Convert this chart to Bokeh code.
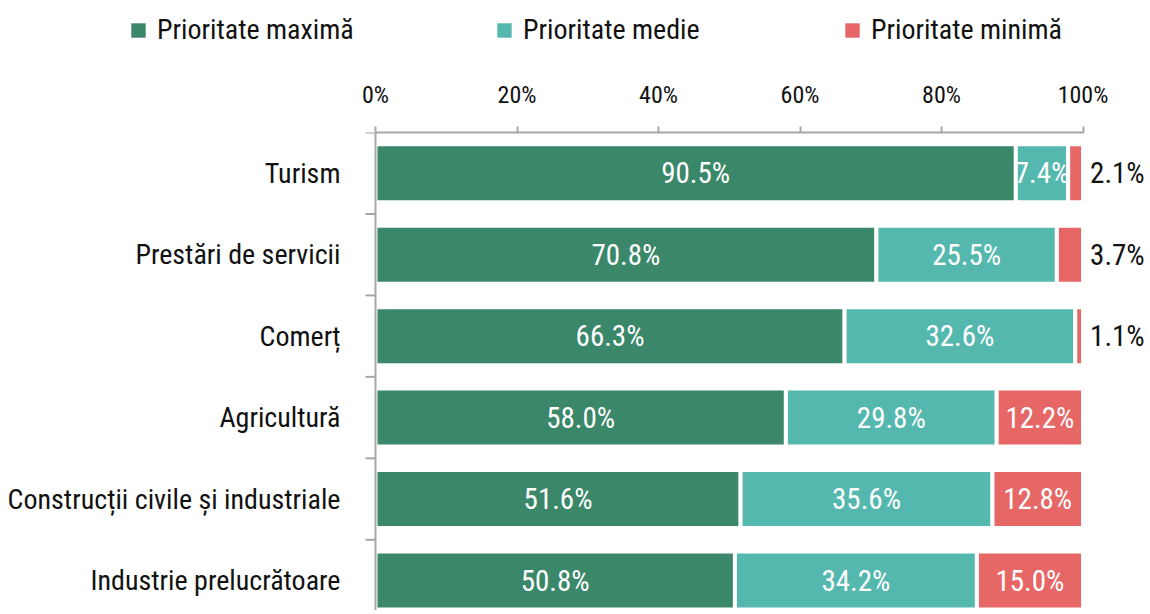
from bokeh.plotting import figure
from bokeh.models import (ColumnDataSource, FixedTicker, Range1d, Legend, LegendItem,
                          PrintfTickFormatter, LabelSet, Span)
from bokeh.layouts import column
from bokeh.core.properties import value
from bokeh.embed import file_html
from bokeh.resources import INLINE

FONT = "Roboto Condensed"

categories = ["Turism", "Prestări de servicii", "Comerț", "Agricultură",
              "Construcții civile și industriale", "Industrie prelucrătoare"]
series_names = ["Prioritate maximă", "Prioritate medie", "Prioritate minimă"]
maxima = [90.5, 70.8, 66.3, 58.0, 51.6, 50.8]
medie = [7.4, 25.5, 32.6, 29.8, 35.6, 34.2]
minima = [2.1, 3.7, 1.1, 12.2, 12.8, 15.0]
x_ticks = [0, 20, 40, 60, 80, 100]
colors = ["#3A876A", "#55B8AE", "#E76767"]
TXT = "#111111"
AXIS = "#A6A6A6"

n = len(categories)
ypos = [n - i - 0.5 for i in range(n)]  # first category on top
bounds_y = [float(k) for k in range(1, n + 1)]

# ---------------- legend strip ----------------
pl = figure(width=1146, height=60, output_backend="svg", toolbar_location=None,
            x_range=(0, 1), y_range=(0, 1), min_border=0)
pl.axis.visible = False
pl.grid.visible = False
pl.outline_line_color = None
leg_x = [129, 495, 843]
for name, col, lx in zip(series_names, colors, leg_x):
    r = pl.hbar(y=[-10], right=[1], height=0.5, color=col, line_color=None)
    lg = Legend(items=[LegendItem(label=name, renderers=[r])], location=(lx, 14),
                orientation="horizontal", padding=0, margin=0,
                glyph_width=18, glyph_height=18, label_standoff=10,
                border_line_color=None, background_fill_alpha=0,
                label_text_font=FONT, label_text_font_size="28px", label_text_color=TXT)
    pl.add_layout(lg)

# ---------------- main chart ----------------
source = ColumnDataSource(dict(y=ypos, maxima=maxima, medie=medie, minima=minima))

p = figure(width=1146, height=550, output_backend="svg", toolbar_location=None,
           x_range=Range1d(-53.0, 108.97), y_range=Range1d(0.132, 6.0),
           x_axis_location="above", y_axis_location=None,
           min_border_left=0, min_border_top=72, min_border_right=0, min_border_bottom=0)
p.outline_line_color = None
p.grid.visible = False

p.hbar_stack(["maxima", "medie", "minima"], y="y", height=0.712,
             color=colors, line_color="white", line_width=4, source=source)

# vertical category axis: line at 0 %, ticks between categories, labels on the left
p.add_layout(Span(location=0, dimension="height", line_color=AXIS, line_width=2))
p.segment(x0=-1.41, x1=0, y0=bounds_y, y1=bounds_y, line_color=AXIS, line_width=2)
cat_src = ColumnDataSource(dict(y=ypos, t=categories))
p.add_layout(LabelSet(x=-4.95, y="y", text="t", source=cat_src, text_align="right",
                      text_baseline="middle", text_color=TXT,
                      text_font=value(FONT), text_font_size="28px"))

in_x, in_y, in_t = [], [], []
out_x, out_y, out_t = [], [], []
for i in range(n):
    start = 0.0
    for vals in (maxima, medie, minima):
        v = vals[i]
        if v < 5:
            out_x.append(101.0); out_y.append(ypos[i]); out_t.append(f"{v:.1f}%")
        else:
            in_x.append(start + v / 2); in_y.append(ypos[i]); in_t.append(f"{v:.1f}%")
        start += v

src_in = ColumnDataSource(dict(x=in_x, y=in_y, t=in_t))
src_out = ColumnDataSource(dict(x=out_x, y=out_y, t=out_t))
p.add_layout(LabelSet(x="x", y="y", text="t", source=src_in, text_align="center",
                      text_baseline="middle", text_color="white",
                      text_font=value(FONT), text_font_size="29px"))
p.add_layout(LabelSet(x="x", y="y", text="t", source=src_out, text_align="left",
                      text_baseline="middle", text_color=TXT,
                      text_font=value(FONT), text_font_size="29px"))

xa = p.xaxis[0]
xa.ticker = FixedTicker(ticks=x_ticks)
xa.formatter = PrintfTickFormatter(format="%d%%")
xa.bounds = (0, 100)
xa.axis_line_color = AXIS
xa.axis_line_width = 2
xa.major_tick_line_color = AXIS
xa.major_tick_line_width = 2
xa.major_tick_in = 0
xa.major_tick_out = 6
xa.minor_tick_line_color = None
xa.major_label_standoff = 18
xa.major_label_text_font = FONT
xa.major_label_text_font_size = "24px"
xa.major_label_text_color = TXT

open("out.html", "w").write(file_html(column(pl, p), INLINE))
